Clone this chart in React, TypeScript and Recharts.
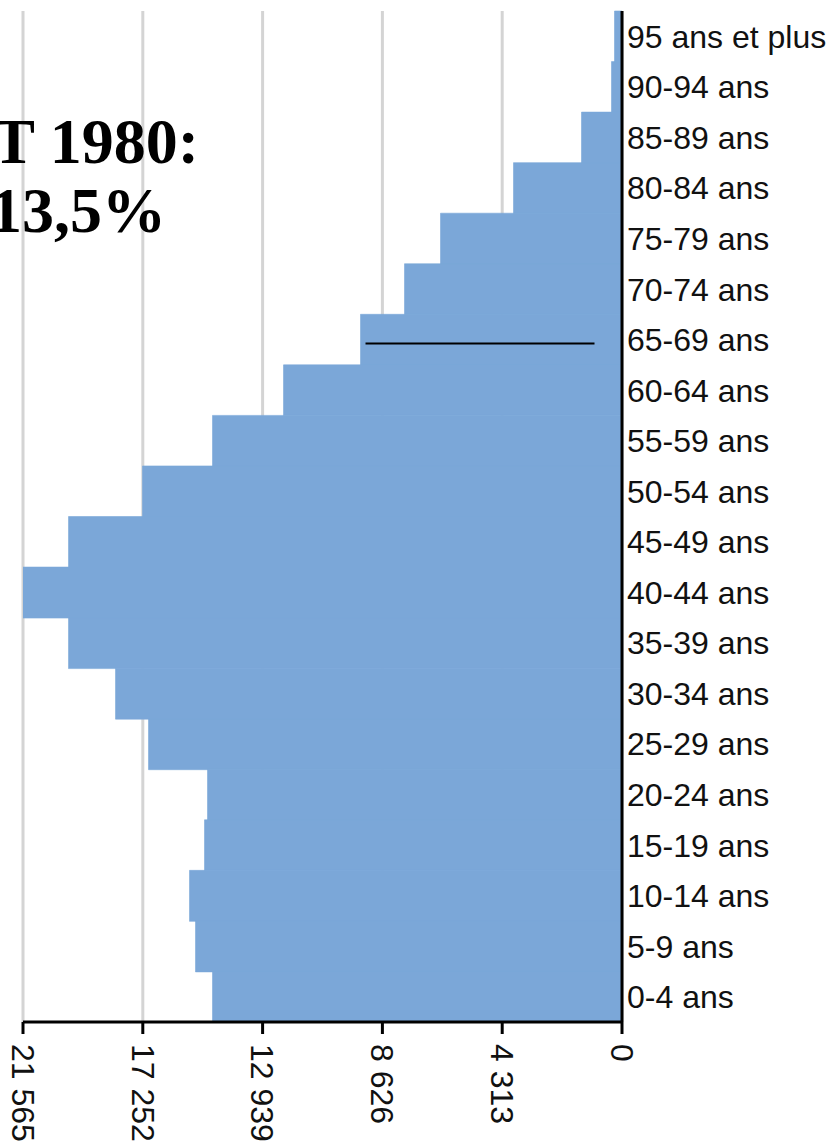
import React from 'react';
import { BarChart, Bar, XAxis, YAxis, CartesianGrid, ReferenceLine } from 'recharts';

const ageGroups = [
  '95 ans et plus', '90-94 ans', '85-89 ans', '80-84 ans', '75-79 ans',
  '70-74 ans', '65-69 ans', '60-64 ans', '55-59 ans', '50-54 ans',
  '45-49 ans', '40-44 ans', '35-39 ans', '30-34 ans', '25-29 ans',
  '20-24 ans', '15-19 ans', '10-14 ans', '5-9 ans', '0-4 ans',
];

const population = [
  270, 378, 1458, 3906, 6534,
  7830, 9414, 12186, 14742, 17262,
  19926, 21565, 19926, 18234, 17046,
  14922, 15030, 15570, 15354, 14742,
];

const xTicks = [0, 4313, 8626, 12939, 17252, 21565];
const xTickLabels = ['0', '4 313', '8 626', '12 939', '17 252', '21 565'];

const titleLines = ['T 1980:', '13,5%'];

const markerCategory = '65-69 ans';
const markerFrom = 9234;
const markerTo = 990;

const data = ageGroups.map((age, i) => ({ age, value: population[i] }));

const FONT = '"Liberation Sans", Arial, sans-serif';

const XTick = (props: any) => {
  const { x, y, payload } = props;
  const idx = xTicks.indexOf(payload.value);
  const label = idx >= 0 ? xTickLabels[idx] : String(payload.value);
  return (
    <g transform={`translate(${x},${y})`}>
      <text
        transform="rotate(90)"
        x={8}
        y={0}
        dy="0.35em"
        textAnchor="start"
        fontFamily={FONT}
        fontSize={32}
        fill="#111"
      >
        {label}
      </text>
    </g>
  );
};

const YTick = (props: any) => {
  const { x, y, payload } = props;
  return (
    <text
      x={x}
      y={y}
      dy="0.36em"
      textAnchor="start"
      fontFamily={FONT}
      fontSize={32}
      fill="#111"
    >
      {payload.value}
    </text>
  );
};

const MarkerLine = (props: any) => {
  const { x1, y1, x2, y2 } = props;
  return <line x1={x1} y1={y1 + 4} x2={x2} y2={y2 + 4} stroke="#000" strokeWidth={2} />;
};

export default function App() {
  return (
    <div style={{ position: 'absolute', left: 0, top: 0, width: 832, height: 1144, overflow: 'hidden', background: '#fff' }}>
      <BarChart
        width={832}
        height={1144}
        data={data}
        layout="vertical"
        barCategoryGap={0}
        margin={{ top: 11, right: 0, bottom: 0, left: 23 }}
      >
        <CartesianGrid horizontal={false} vertical={true} stroke="#d4d4d4" strokeWidth={3} />
        <XAxis
          type="number"
          reversed
          domain={[0, 21565]}
          ticks={xTicks}
          interval={0}
          height={122}
          axisLine={{ stroke: '#000', strokeWidth: 3 }}
          tickLine={{ stroke: '#000', strokeWidth: 3 }}
          tickSize={12}
          tickMargin={2}
          tick={<XTick />}
          allowDataOverflow
        />
        <YAxis
          type="category"
          dataKey="age"
          orientation="right"
          width={210}
          axisLine={{ stroke: '#000', strokeWidth: 3 }}
          tickLine={false}
          tickSize={0}
          tickMargin={5}
          interval={0}
          tick={<YTick />}
        />
        <Bar dataKey="value" fill="#7ba7d8" stroke="#7ba7d8" strokeWidth={0.6} isAnimationActive={false} />
        <ReferenceLine
          segment={[
            { x: markerFrom, y: markerCategory },
            { x: markerTo, y: markerCategory },
          ]}
          stroke="#000"
          strokeWidth={2}
          shape={<MarkerLine />}
        />
      </BarChart>
      <svg width={832} height={1144} style={{ position: 'absolute', left: 0, top: 0, pointerEvents: 'none' }}>
        <text x={199} y={163} textAnchor="end" fontFamily='"Liberation Serif", "Times New Roman", serif' fontWeight="bold" fontSize={64} fill="#000">
          {titleLines[0]}
        </text>
        <text x={166} y={232} textAnchor="end" fontFamily='"Liberation Serif", "Times New Roman", serif' fontWeight="bold" fontSize={64} fill="#000">
          {titleLines[1]}
        </text>
      </svg>
    </div>
  );
}
